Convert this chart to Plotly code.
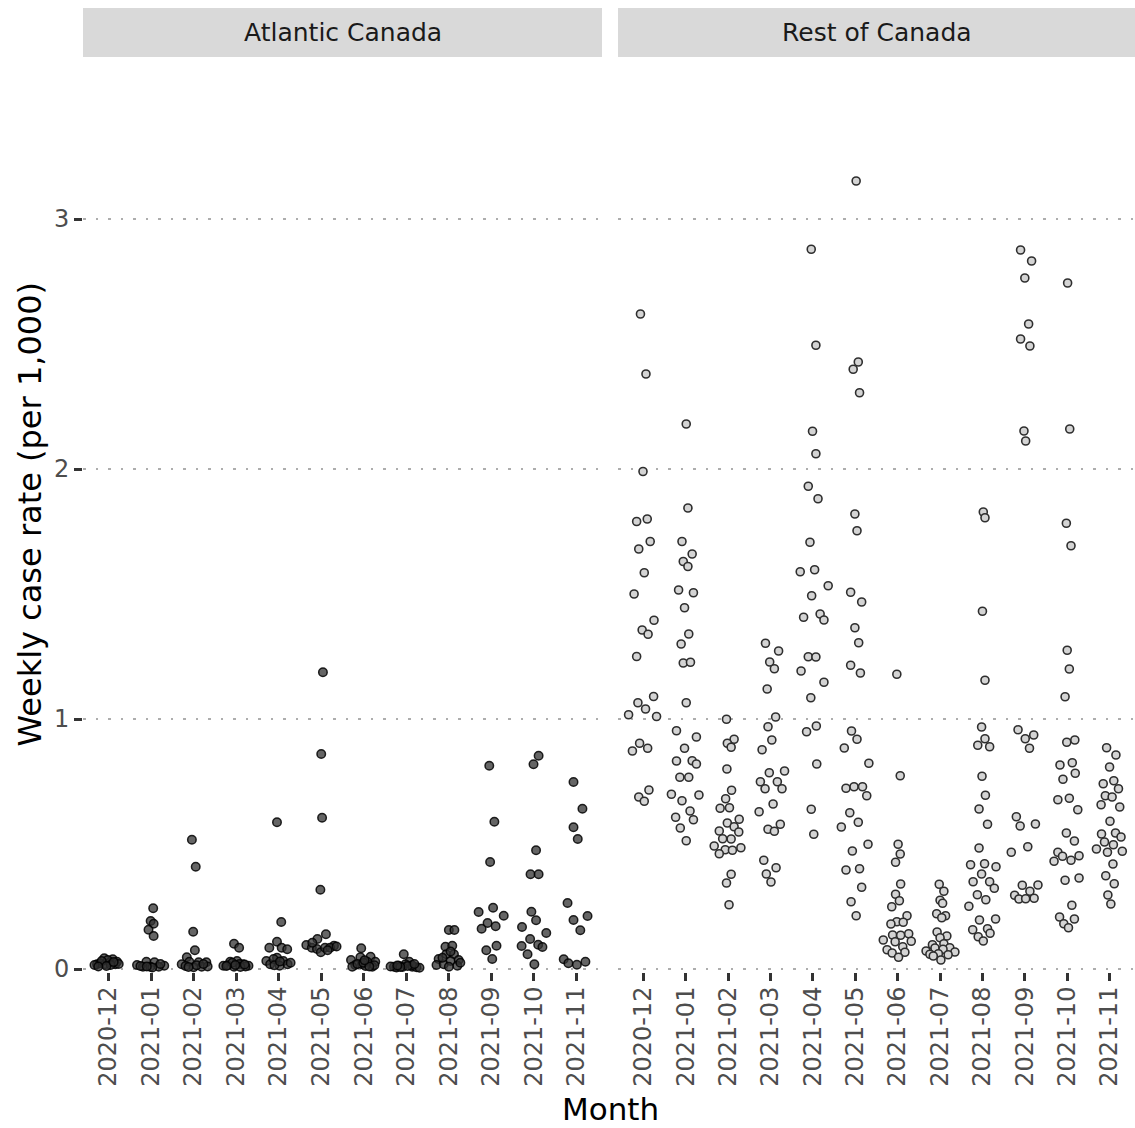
import plotly.graph_objects as go

months = ["2020-12", "2021-01", "2021-02", "2021-03", "2021-04", "2021-05",
          "2021-06", "2021-07", "2021-08", "2021-09", "2021-10", "2021-11"]
panels = ["Atlantic Canada", "Rest of Canada"]

# Weekly case rate per 1,000, read per month (Atlantic Canada)
atl_vals = [
    [0.019, 0.043, 0.039, 0.023, 0.019, 0.027, 0.019, 0.029, 0.036, 0.032, 0.016, 0.02, 0.016, 0.012, 0.028, 0.010],
    [0.243, 0.192, 0.181, 0.157, 0.132, 0.016, 0.029, 0.027, 0.013, 0.009, 0.009, 0.009, 0.012, 0.02, 0.006, 0.01],
    [0.517, 0.409, 0.149, 0.075, 0.047, 0.019, 0.029, 0.027, 0.027, 0.007, 0.009, 0.012, 0.015, 0.01, 0.02, 0.008],
    [0.101, 0.085, 0.013, 0.029, 0.032, 0.019, 0.013, 0.009, 0.015, 0.02, 0.01, 0.025, 0.008, 0.016, 0.012, 0.018],
    [0.587, 0.188, 0.085, 0.109, 0.085, 0.079, 0.032, 0.045, 0.019, 0.032, 0.019, 0.013, 0.04, 0.025, 0.015, 0.03],
    [1.187, 0.86, 0.605, 0.317, 0.139, 0.12, 0.096, 0.093, 0.085, 0.08, 0.067, 0.085, 0.085, 0.105, 0.075, 0.09],
    [0.083, 0.036, 0.047, 0.049, 0.029, 0.029, 0.016, 0.019, 0.009, 0.009, 0.012, 0.02, 0.015, 0.025, 0.01, 0.035],
    [0.059, 0.029, 0.009, 0.013, 0.019, 0.009, 0.007, 0.008, 0.015, 0.006, 0.012, 0.005, 0.01, 0.02, 0.008, 0.014],
    [0.156, 0.156, 0.089, 0.093, 0.059, 0.059, 0.04, 0.036, 0.016, 0.019, 0.032, 0.013, 0.009, 0.07, 0.045, 0.025],
    [0.813, 0.589, 0.428, 0.228, 0.245, 0.213, 0.184, 0.161, 0.171, 0.075, 0.093, 0.04],
    [0.853, 0.819, 0.475, 0.379, 0.379, 0.229, 0.195, 0.168, 0.144, 0.12, 0.092, 0.097, 0.088, 0.059, 0.019],
    [0.748, 0.641, 0.567, 0.52, 0.264, 0.196, 0.212, 0.155, 0.039, 0.023, 0.017, 0.029],
]
# horizontal jitter (in month units)
atl_jit = [
    [-0.27, -0.10, 0.10, -0.20, -0.08, 0.04, 0.16, 0.20, -0.02, -0.16, 0.05, 0.24, -0.33, -0.05, 0.12, -0.24],
    [0.05, -0.01, 0.06, -0.06, 0.06, -0.33, -0.11, 0.08, 0.31, -0.19, -0.02, 0.18, -0.25, 0.22, 0.03, -0.10],
    [-0.04, 0.05, -0.01, 0.03, -0.16, -0.28, -0.10, 0.12, 0.30, 0.00, 0.19, -0.19, 0.07, 0.33, 0.23, -0.12],
    [-0.05, 0.07, -0.30, -0.14, 0.02, 0.16, 0.29, -0.05, -0.20, 0.08, 0.22, -0.09, 0.10, -0.02, -0.23, 0.20],
    [-0.04, 0.06, -0.22, -0.04, 0.07, 0.20, -0.29, -0.04, -0.20, 0.11, 0.21, 0.02, -0.12, 0.28, -0.10, 0.03],
    [0.04, 0.00, 0.02, -0.02, 0.11, -0.09, -0.35, 0.30, -0.22, -0.10, -0.01, 0.09, 0.21, -0.21, 0.15, 0.36],
    [-0.06, -0.30, -0.08, 0.16, 0.27, 0.08, -0.20, -0.04, 0.20, -0.27, 0.04, -0.15, 0.25, -0.01, 0.13, 0.02],
    [-0.06, 0.07, -0.29, -0.18, -0.02, 0.14, 0.24, -0.09, 0.14, -0.23, 0.03, 0.31, -0.37, 0.19, -0.14, -0.21],
    [0.00, 0.13, -0.08, 0.08, -0.06, 0.12, -0.24, 0.23, -0.29, -0.12, 0.04, 0.20, 0.00, 0.04, -0.15, 0.27],
    [-0.05, 0.07, -0.03, -0.30, 0.04, 0.29, -0.09, -0.23, 0.10, -0.12, 0.12, 0.02],
    [0.11, -0.01, 0.05, -0.08, 0.11, -0.06, 0.05, -0.28, 0.29, -0.09, -0.29, 0.10, 0.20, -0.15, 0.01],
    [-0.07, 0.14, -0.07, 0.03, -0.21, -0.07, 0.26, 0.09, -0.30, -0.19, 0.01, 0.21],
]

# Weekly case rate per 1,000, read per month (Rest of Canada)
rest_vals = [
    [2.62, 2.38, 1.99, 1.79, 1.80, 1.71, 1.68, 1.585, 1.50, 1.395, 1.356, 1.339, 1.25, 1.09, 1.065, 1.04, 1.017, 1.01, 0.903, 0.883, 0.872, 0.716, 0.688, 0.671],
    [2.18, 1.844, 1.71, 1.66, 1.63, 1.61, 1.516, 1.505, 1.445, 1.34, 1.30, 1.224, 1.227, 1.065, 0.953, 0.928, 0.883, 0.832, 0.833, 0.82, 0.767, 0.767, 0.699, 0.696, 0.673, 0.632, 0.607, 0.597, 0.564, 0.513],
    [0.999, 0.919, 0.903, 0.887, 0.80, 0.715, 0.681, 0.643, 0.645, 0.599, 0.584, 0.569, 0.552, 0.548, 0.521, 0.52, 0.492, 0.485, 0.477, 0.475, 0.461, 0.379, 0.344, 0.257],
    [1.303, 1.272, 1.228, 1.201, 1.12, 1.008, 0.969, 0.916, 0.877, 0.792, 0.785, 0.749, 0.749, 0.721, 0.721, 0.66, 0.629, 0.559, 0.579, 0.551, 0.435, 0.405, 0.38, 0.348],
    [2.879, 2.495, 2.151, 2.061, 1.931, 1.881, 1.707, 1.589, 1.597, 1.533, 1.493, 1.407, 1.42, 1.396, 1.249, 1.248, 1.192, 1.147, 1.085, 0.949, 0.972, 0.82, 0.639, 0.539],
    [3.152, 2.428, 2.399, 2.305, 1.82, 1.753, 1.507, 1.468, 1.365, 1.305, 1.215, 1.184, 0.952, 0.919, 0.884, 0.823, 0.723, 0.729, 0.729, 0.693, 0.625, 0.587, 0.568, 0.499, 0.472, 0.396, 0.401, 0.327, 0.269, 0.213],
    [1.179, 0.773, 0.499, 0.46, 0.427, 0.34, 0.299, 0.273, 0.249, 0.213, 0.189, 0.187, 0.18, 0.136, 0.135, 0.141, 0.116, 0.109, 0.111, 0.089, 0.077, 0.064, 0.067, 0.047],
    [0.339, 0.311, 0.275, 0.263, 0.221, 0.213, 0.205, 0.148, 0.132, 0.125, 0.097, 0.101, 0.085, 0.084, 0.072, 0.079, 0.059, 0.061, 0.068, 0.057, 0.052, 0.036],
    [1.828, 1.805, 1.431, 1.155, 0.968, 0.921, 0.895, 0.889, 0.771, 0.695, 0.64, 0.579, 0.484, 0.417, 0.421, 0.409, 0.38, 0.349, 0.349, 0.323, 0.297, 0.277, 0.251, 0.196, 0.2, 0.157, 0.161, 0.143, 0.129, 0.112],
    [2.876, 2.832, 2.764, 2.58, 2.52, 2.492, 2.152, 2.112, 0.957, 0.936, 0.921, 0.883, 0.609, 0.572, 0.58, 0.489, 0.467, 0.335, 0.336, 0.311, 0.295, 0.28, 0.281, 0.283],
    [2.744, 2.16, 1.783, 1.693, 1.275, 1.2, 1.089, 0.907, 0.916, 0.816, 0.825, 0.783, 0.759, 0.677, 0.683, 0.637, 0.544, 0.512, 0.467, 0.431, 0.451, 0.435, 0.453, 0.355, 0.364, 0.255, 0.208, 0.2, 0.181, 0.165],
    [0.885, 0.856, 0.808, 0.741, 0.753, 0.721, 0.693, 0.688, 0.657, 0.648, 0.591, 0.54, 0.544, 0.528, 0.508, 0.497, 0.48, 0.467, 0.471, 0.42, 0.373, 0.341, 0.296, 0.26],
]
rest_jit = [
    [-0.07, 0.06, -0.01, -0.16, 0.09, 0.16, -0.11, 0.02, -0.22, 0.25, -0.03, 0.11, -0.16, 0.24, -0.13, 0.05, -0.35, 0.31, -0.09, 0.10, -0.26, 0.13, -0.11, 0.02],
    [0.01, 0.05, -0.09, 0.15, -0.06, 0.05, -0.17, 0.18, -0.03, 0.07, -0.11, -0.06, 0.11, 0.01, -0.22, 0.25, -0.03, -0.22, 0.15, 0.25, -0.14, 0.07, -0.34, 0.31, -0.09, 0.10, -0.24, 0.18, -0.13, 0.01],
    [-0.04, 0.14, -0.02, 0.07, -0.03, 0.08, -0.06, -0.19, 0.03, 0.26, -0.02, 0.14, -0.21, 0.25, -0.13, 0.07, -0.33, 0.30, -0.07, 0.10, -0.21, 0.07, -0.04, 0.02],
    [-0.12, 0.19, -0.02, 0.09, -0.08, 0.12, -0.06, 0.03, -0.20, 0.33, -0.03, -0.24, 0.16, -0.13, 0.27, 0.06, -0.27, -0.06, 0.23, 0.09, -0.16, 0.13, -0.10, 0.01],
    [-0.04, 0.07, -0.01, 0.07, -0.11, 0.12, -0.07, -0.30, 0.04, 0.36, -0.03, -0.22, 0.17, 0.26, -0.11, 0.07, -0.28, 0.26, -0.05, -0.15, 0.08, 0.09, -0.04, 0.02],
    [0.02, 0.07, -0.05, 0.10, -0.01, 0.04, -0.11, 0.15, -0.01, 0.08, -0.11, 0.12, -0.09, 0.04, -0.26, 0.32, -0.22, -0.03, 0.17, 0.27, -0.13, 0.07, -0.33, 0.30, -0.07, -0.22, 0.10, 0.15, -0.10, 0.02],
    [-0.02, 0.06, 0.01, 0.06, -0.05, 0.07, -0.05, 0.04, -0.14, 0.22, -0.02, 0.13, -0.16, -0.12, 0.07, 0.26, -0.34, -0.06, 0.32, 0.12, -0.25, -0.13, 0.17, 0.02],
    [-0.02, 0.09, 0.00, 0.06, -0.08, 0.13, 0.04, -0.07, 0.16, 0.00, -0.18, 0.09, 0.23, -0.12, -0.33, 0.07, -0.24, -0.04, 0.35, 0.19, -0.16, 0.02],
    [0.02, 0.06, 0.00, 0.06, -0.02, 0.06, -0.11, 0.17, -0.01, 0.07, -0.08, 0.12, -0.08, -0.28, 0.05, 0.32, -0.02, -0.22, 0.17, 0.28, -0.12, 0.08, -0.32, -0.07, 0.31, -0.23, 0.12, 0.18, -0.10, 0.02],
    [-0.10, 0.16, 0.00, 0.09, -0.10, 0.12, -0.02, 0.02, -0.16, 0.21, 0.01, 0.11, -0.20, -0.11, 0.25, 0.07, -0.32, -0.06, 0.31, 0.12, -0.24, -0.14, 0.02, 0.22],
    [0.01, 0.06, -0.02, 0.09, 0.00, 0.05, -0.05, -0.01, 0.18, -0.17, 0.12, 0.19, -0.10, -0.22, 0.05, 0.25, -0.02, 0.17, -0.22, -0.31, -0.11, 0.09, 0.28, -0.05, 0.28, 0.11, -0.18, 0.17, -0.08, 0.03],
    [-0.07, 0.15, 0.00, -0.15, 0.10, 0.21, -0.10, 0.06, -0.20, 0.24, 0.01, -0.19, 0.14, 0.27, -0.12, 0.09, -0.31, -0.05, 0.30, 0.08, -0.09, 0.11, -0.04, 0.03],
]
y_ticks = [0, 1, 2, 3]

FONT = "DejaVu Sans"
W, H = 1135, 1128
ML, MR, MT, MB = 83, 0, 57, 156
PW = W - ML - MR
PH = H - MT - MB


def flatten(vals, jit):
    xs, ys = [], []
    for i, (vv, jj) in enumerate(zip(vals, jit)):
        for v, j in zip(vv, jj):
            xs.append(i + j)
            ys.append(v)
    return xs, ys


fig = go.Figure()
ax, ay = flatten(atl_vals, atl_jit)
rx, ry = flatten(rest_vals, rest_jit)

fig.add_trace(go.Scatter(
    x=ax, y=ay, mode="markers", xaxis="x", yaxis="y", cliponaxis=False,
    marker=dict(size=8.5, color="rgba(50,50,50,0.75)",
                line=dict(color="rgba(0,0,0,0.85)", width=1.5)),
    showlegend=False, hoverinfo="skip"))
fig.add_trace(go.Scatter(
    x=rx, y=ry, mode="markers", xaxis="x2", yaxis="y2", cliponaxis=False,
    marker=dict(size=8, color="#d4d4d4",
                line=dict(color="#2e2e2e", width=1.6)),
    showlegend=False, hoverinfo="skip"))

d1 = [0, (602 - ML) / PW]
d2 = [(618 - ML) / PW, 1]

xcommon = dict(range=[-0.6, 11.6], tickmode="array", tickvals=list(range(12)),
               ticktext=months, tickangle=-90, ticks="outside", ticklen=8,
               tickwidth=2.5, tickcolor="#333333", showgrid=False,
               zeroline=False, showline=False, ticklabelstandoff=-4,
               tickfont=dict(family=FONT, size=24, color="#4d4d4d"))
ycommon = dict(range=[-3 / 250, (969 - MT) / 250], tickmode="array",
               tickvals=y_ticks, showgrid=True, gridcolor="#adadad",
               gridwidth=2.4, griddash="2.5px,10px", zeroline=False,
               showline=False)

fig.update_layout(
    width=W, height=H,
    margin=dict(l=ML, r=MR, t=MT, b=MB, pad=0),
    plot_bgcolor="white", paper_bgcolor="white",
    font=dict(family=FONT),
    xaxis=dict(domain=d1, anchor="y", **xcommon),
    xaxis2=dict(domain=d2, anchor="y2", **xcommon),
    yaxis=dict(domain=[0, 1], anchor="x", ticks="outside", ticklen=8,
               tickwidth=2.5, tickcolor="#333333",
               tickfont=dict(family=FONT, size=24, color="#4d4d4d"),
               **ycommon),
    yaxis2=dict(domain=[0, 1], anchor="x2", matches="y",
                showticklabels=False, ticks="", **ycommon),
)

strip_top = 1 + (MT - 8) / PH
for xr, name in zip(["x domain", "x2 domain"], panels):
    fig.add_shape(type="rect", xref=xr, yref="paper", x0=0, x1=1,
                  y0=1, y1=strip_top, fillcolor="#d9d9d9", line_width=0,
                  layer="below")
    fig.add_annotation(xref=xr, yref="paper", x=0.5, y=(1 + strip_top) / 2,
                       text=name, showarrow=False, xanchor="center",
                       yanchor="middle",
                       font=dict(family=FONT, size=25, color="#1a1a1a"))

fig.add_annotation(xref="paper", yref="paper", x=(29 - ML) / PW, y=0.5,
                   text="Weekly case rate (per 1,000)", textangle=-90,
                   showarrow=False, xanchor="center", yanchor="middle",
                   font=dict(family=FONT, size=32, color="black"))
fig.add_annotation(xref="paper", yref="paper", x=(610 - ML) / PW,
                   y=-(1109 - (H - MB)) / PH, text="Month",
                   showarrow=False, xanchor="center", yanchor="middle",
                   borderpad=0,
                   font=dict(family=FONT, size=31, color="black"))

fig.write_html(
    "out.html",
    config={"displayModeBar": False},
    post_script="document.body.style.margin='0';"
                "document.body.style.overflow='hidden';")
